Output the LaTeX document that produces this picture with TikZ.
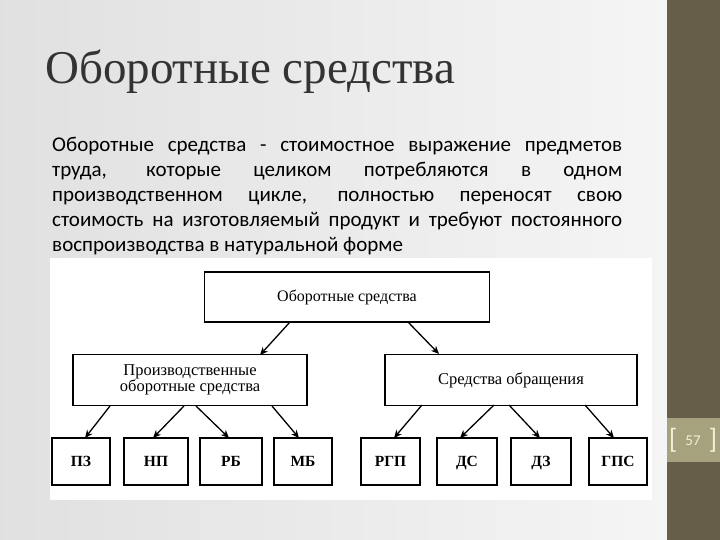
\documentclass[tikz,border=0pt]{standalone}
\usepackage{fontspec}
\setmainfont{Liberation Serif}
\newfontfamily\bodyfont{Carlito}
\usetikzlibrary{arrows.meta}
\definecolor{barcol}{HTML}{665E48}
\definecolor{numbox}{HTML}{A7A27E}
\definecolor{numtxt}{HTML}{F2EFD8}
\newcommand{\jline}[1]{\makebox[570pt][s]{#1}}
\begin{document}
\begin{tikzpicture}[x=1pt,y=-1pt,
  box/.style={draw=black,line width=1.2pt,fill=white,inner sep=0pt,font=\fontsize{16}{15}\selectfont},
  arr/.style={-{Stealth[length=8pt,width=7pt]},line width=1.3pt}]
\useasboundingbox (0,0) rectangle (720,540);
\shade[left color=white!88!black,right color=white!96!black] (0,0) rectangle (667,540);
\fill[barcol] (667,0) rectangle (720,540);
\fill[numbox] (667,418) rectangle (720,462);
\node[text=numtxt,font=\bodyfont\fontsize{28}{30}\selectfont] (brk) at (693,440) {[\hspace{8pt}\raisebox{3pt}{\fontsize{15}{15}\selectfont 57}\hspace{8pt}]};
\node[anchor=base west,text=black!80,font=\fontsize{47}{48}\selectfont,inner sep=0] (title) at (45,84) {Оборотные средства};
\node[anchor=north west,inner sep=0,align=left,font=\bodyfont\fontsize{21}{25}\selectfont] (body) at (52,137)
{\jline{Оборотные средства - стоимостное выражение предметов}\\
\jline{труда, которые целиком потребляются в одном}\\
\jline{производственном цикле, полностью переносят свою}\\
\jline{стоимость на изготовляемый продукт и требуют постоянного}\\
воспроизводства в натуральной форме};
\fill[white] (50,258) rectangle (652,500);
\node[box,minimum width=285pt,minimum height=50pt] (top) at (347,297) {Оборотные средства};
\node[box,minimum width=234pt,minimum height=51pt,align=center,font=\fontsize{16.5}{15}\selectfont] (pl) at (190,380) {Производственные\\оборотные средства};
\node[box,minimum width=252pt,minimum height=51pt,font=\fontsize{16.5}{15}\selectfont] (pr) at (511,380) {Средства обращения};
\foreach \n/\t/\a/\b in {a/ПЗ/52/110,b/НП/124/188,c/РБ/200/262,d/МБ/274/332,e/РГП/361/420,f/ДС/437/497,g/ДЗ/511/571,h/ГПС/589/647}
  \node[box,font=\bfseries\fontsize{15.5}{15}\selectfont,text height=10pt,text depth=0pt,minimum width=\b pt-\a pt,minimum height=47pt] (\n) at ({(\a+\b)/2},461.5) {\t};
\draw[arr] (290,322) -- (260,355);
\draw[arr] (408,322) -- (439,354);
\draw[arr] (110,406) -- (85,438);
\draw[arr] (184,406) -- (153,438);
\draw[arr] (196,406) -- (229,438);
\draw[arr] (272,406) -- (299,438);
\draw[arr] (422,405) -- (394,438);
\draw[arr] (494,405) -- (460,438);
\draw[arr] (509,405) -- (540,438);
\draw[arr] (585,405) -- (614,438);
\end{tikzpicture}
\end{document}
